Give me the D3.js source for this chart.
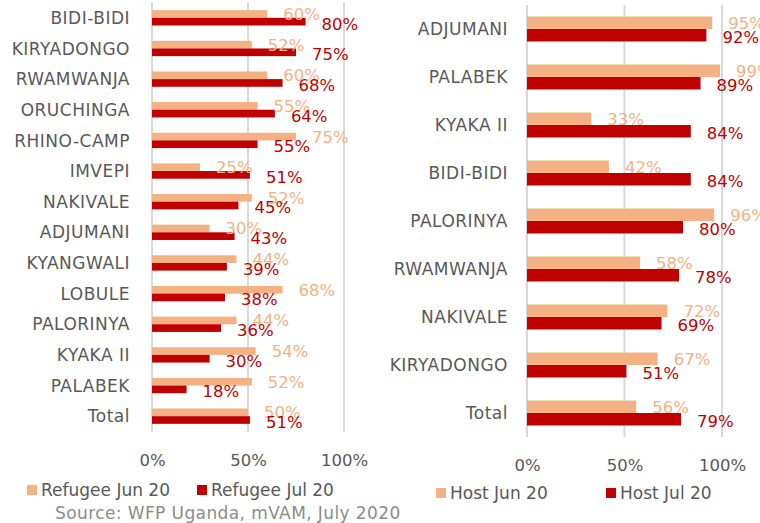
<!DOCTYPE html>
<html>
<head>
<meta charset="utf-8">
<script src="https://cdn.jsdelivr.net/npm/d3@7"></script>
<style>
body { margin:0; background:#ffffff; }
text { font-family:"DejaVu Sans", sans-serif; }
</style>
</head>
<body>
<svg></svg>
<script>
// refugee settlements
var refugeeCats = ["BIDI-BIDI","KIRYADONGO","RWAMWANJA","ORUCHINGA","RHINO-CAMP","IMVEPI","NAKIVALE","ADJUMANI","KYANGWALI","LOBULE","PALORINYA","KYAKA II","PALABEK","Total"];
var refugeeJun = [0.60,0.52,0.60,0.55,0.75,0.25,0.52,0.30,0.44,0.68,0.44,0.54,0.52,0.50];
var refugeeJul = [0.80,0.75,0.68,0.64,0.55,0.51,0.45,0.43,0.39,0.38,0.36,0.30,0.18,0.51];

// host communities
var hostCats = ["ADJUMANI","PALABEK","KYAKA II","BIDI-BIDI","PALORINYA","RWAMWANJA","NAKIVALE","KIRYADONGO","Total"];
var hostJun = [0.95,0.99,0.33,0.42,0.96,0.58,0.72,0.67,0.56];
var hostJul = [0.92,0.89,0.84,0.84,0.80,0.78,0.69,0.51,0.79];

var tickValues = [0,0.5,1];
var seriesNames = ["Refugee Jun 20","Refugee Jul 20","Host Jun 20","Host Jul 20"];
var source = "Source: WFP Uganda, mVAM, July 2020";

var colJun = "#F4B183";
var colJul = "#C00000";
var grey = "#595959";

var svg = d3.select("svg")
            .attr("width",760)
            .attr("height",523);

var drawPanel = function(cats,jun,jul,opt)
{
  var xScale = d3.scaleLinear()
                 .domain([0,1])
                 .range([opt.x0,opt.x1]);

  var yScale = d3.scaleBand()
                 .domain(cats)
                 .range([opt.y0,opt.y1])
                 .paddingInner(opt.pad)
                 .paddingOuter(opt.pad/2);

  var g = svg.append("g");

  // gridlines
  g.selectAll("line.grid")
   .data(tickValues)
   .enter()
   .append("line")
   .attr("x1",function(d){return xScale(d);})
   .attr("x2",function(d){return xScale(d);})
   .attr("y1",opt.y0)
   .attr("y2",opt.y1)
   .attr("stroke","#d9d9d9")
   .attr("stroke-width",2);

  var h = yScale.bandwidth()/2;
  var rows = cats.map(function(c,i){return {cat:c,jun:jun[i],jul:jul[i]};});

  var row = g.selectAll("g.row")
             .data(rows)
             .enter()
             .append("g")
             .attr("transform",function(d){return "translate(0,"+yScale(d.cat)+")";});

  row.append("rect")
     .attr("x",xScale(0))
     .attr("y",0)
     .attr("width",function(d){return xScale(d.jun)-xScale(0);})
     .attr("height",h)
     .attr("fill",colJun);

  row.append("rect")
     .attr("x",xScale(0))
     .attr("y",h)
     .attr("width",function(d){return xScale(d.jul)-xScale(0);})
     .attr("height",h)
     .attr("fill",colJul);

  row.append("text")
     .attr("x",function(d){return xScale(d.jun)+opt.off;})
     .attr("y",h/2)
     .attr("dy","0.36em")
     .attr("fill",colJun)
     .attr("font-size",16.5)
     .text(function(d){return d3.format(".0%")(d.jun);});

  row.append("text")
     .attr("x",function(d){return xScale(d.jul)+opt.off;})
     .attr("y",h*1.5+2)
     .attr("dy","0.36em")
     .attr("fill",colJul)
     .attr("font-size",16.5)
     .text(function(d){return d3.format(".0%")(d.jul);});

  // category labels
  row.append("text")
     .attr("x",opt.labelX)
     .attr("y",h)
     .attr("dy","0.36em")
     .attr("text-anchor","end")
     .attr("fill",grey)
     .attr("font-size",17)
     .attr("letter-spacing",0.5)
     .text(function(d){return d.cat;});

  var axis = d3.axisBottom(xScale)
               .tickValues(tickValues)
               .tickSize(0)
               .tickPadding(opt.tickPad)
               .tickFormat(d3.format(".0%"));

  var ax = g.append("g")
            .attr("transform","translate(0,"+opt.y1+")")
            .call(axis);
  ax.select(".domain").remove();
  ax.selectAll("text")
    .attr("fill",grey)
    .attr("font-size",16.5)
    .style("font-family","DejaVu Sans, sans-serif");
}

drawPanel(refugeeCats,refugeeJun,refugeeJul,
  {x0:152,x1:344,y0:2.5,y1:431.5,pad:0.5,labelX:130,off:16,tickPad:23});

drawPanel(hostCats,hostJun,hostJul,
  {x0:527,x1:722,y0:5,y1:437,pad:0.48,labelX:508,off:16,tickPad:22});

// legend
var legend = [
  {name:seriesNames[0],color:colJun,x:27,y:490},
  {name:seriesNames[1],color:colJul,x:197,y:490},
  {name:seriesNames[2],color:colJun,x:436,y:493},
  {name:seriesNames[3],color:colJul,x:606,y:493}
];

var leg = svg.selectAll("g.legend")
             .data(legend)
             .enter()
             .append("g")
             .attr("transform",function(d){return "translate("+d.x+","+d.y+")";});

leg.append("rect")
   .attr("x",0)
   .attr("y",-5)
   .attr("width",10)
   .attr("height",10)
   .attr("fill",function(d){return d.color;});

leg.append("text")
   .attr("x",14)
   .attr("y",0)
   .attr("dy","0.36em")
   .attr("fill",grey)
   .attr("font-size",17)
   .text(function(d){return d.name;});

svg.append("text")
   .attr("x",55)
   .attr("y",513)
   .attr("dy","0.36em")
   .attr("fill","#8c8c8c")
   .attr("font-size",17)
   .attr("letter-spacing",0.4)
   .text(source);
</script>
</body>
</html>
